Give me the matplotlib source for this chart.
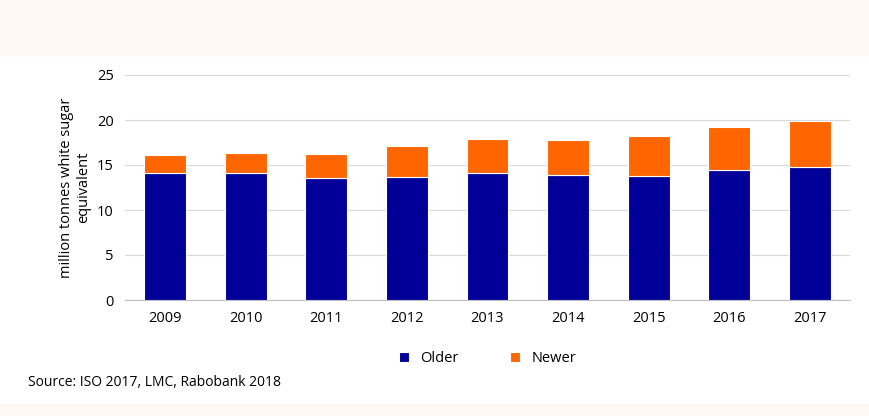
import matplotlib.pyplot as plt
import numpy as np

years = ['2009', '2010', '2011', '2012', '2013', '2014', '2015', '2016', '2017']
older = [14.1, 14.1, 13.6, 13.7, 14.1, 13.9, 13.8, 14.4, 14.8]
total = [16.1, 16.3, 16.2, 17.1, 17.9, 17.8, 18.2, 19.2, 19.9]
newer = [t - o for t, o in zip(total, older)]

plt.rcParams['font.family'] = ['Open Sans', 'DejaVu Sans']
fig = plt.figure(figsize=(8.69, 4.16), dpi=100)
fig.patch.set_facecolor('white')
# light bands at top and bottom
fig.patches.append(plt.Rectangle((0, 55/416*-1 + 1), 1, 55/416, transform=fig.transFigure,
                                 color='#fdf8f4', zorder=0))
fig.patches.append(plt.Rectangle((0, 0), 1, 12/416, transform=fig.transFigure,
                                 color='#fdf8f4', zorder=0))

ax = fig.add_axes([125/869, (416-300)/416, 725/869, 225/416])
x = np.arange(len(years))
ax.bar(x, older, width=0.52, color='#000099', edgecolor='white', linewidth=0.8, label='Older', zorder=3)
ax.bar(x, newer, bottom=older, width=0.52, color='#ff6600', edgecolor='white', linewidth=0.8, label='Newer', zorder=3)

ax.set_ylim(0, 25)
ax.set_xlim(-0.5, len(years) - 0.5)
ax.set_yticks([0, 5, 10, 15, 20, 25])
ax.set_xticks(x)
ax.set_xticklabels(years)
ax.grid(axis='y', color='#d9d9d9', linewidth=0.8, zorder=0)
for s in ['top', 'right', 'left']:
    ax.spines[s].set_visible(False)
ax.spines['bottom'].set_color('#bfbfbf')
ax.tick_params(axis='both', length=0, labelsize=10.5, colors='#000000', pad=8)
ax.set_ylabel('million tonnes white sugar\nequivalent', fontsize=10.5)

ax.legend(loc='upper center', bbox_to_anchor=(0.5, -0.17), ncol=2, frameon=False,
          fontsize=10.5, handlelength=0.7, handleheight=0.7, columnspacing=3.5)
fig.text(28/869, 1 - 383/416, 'Source: ISO 2017, LMC, Rabobank 2018', fontsize=10, va='center')

fig.savefig('out.png', dpi=100)
